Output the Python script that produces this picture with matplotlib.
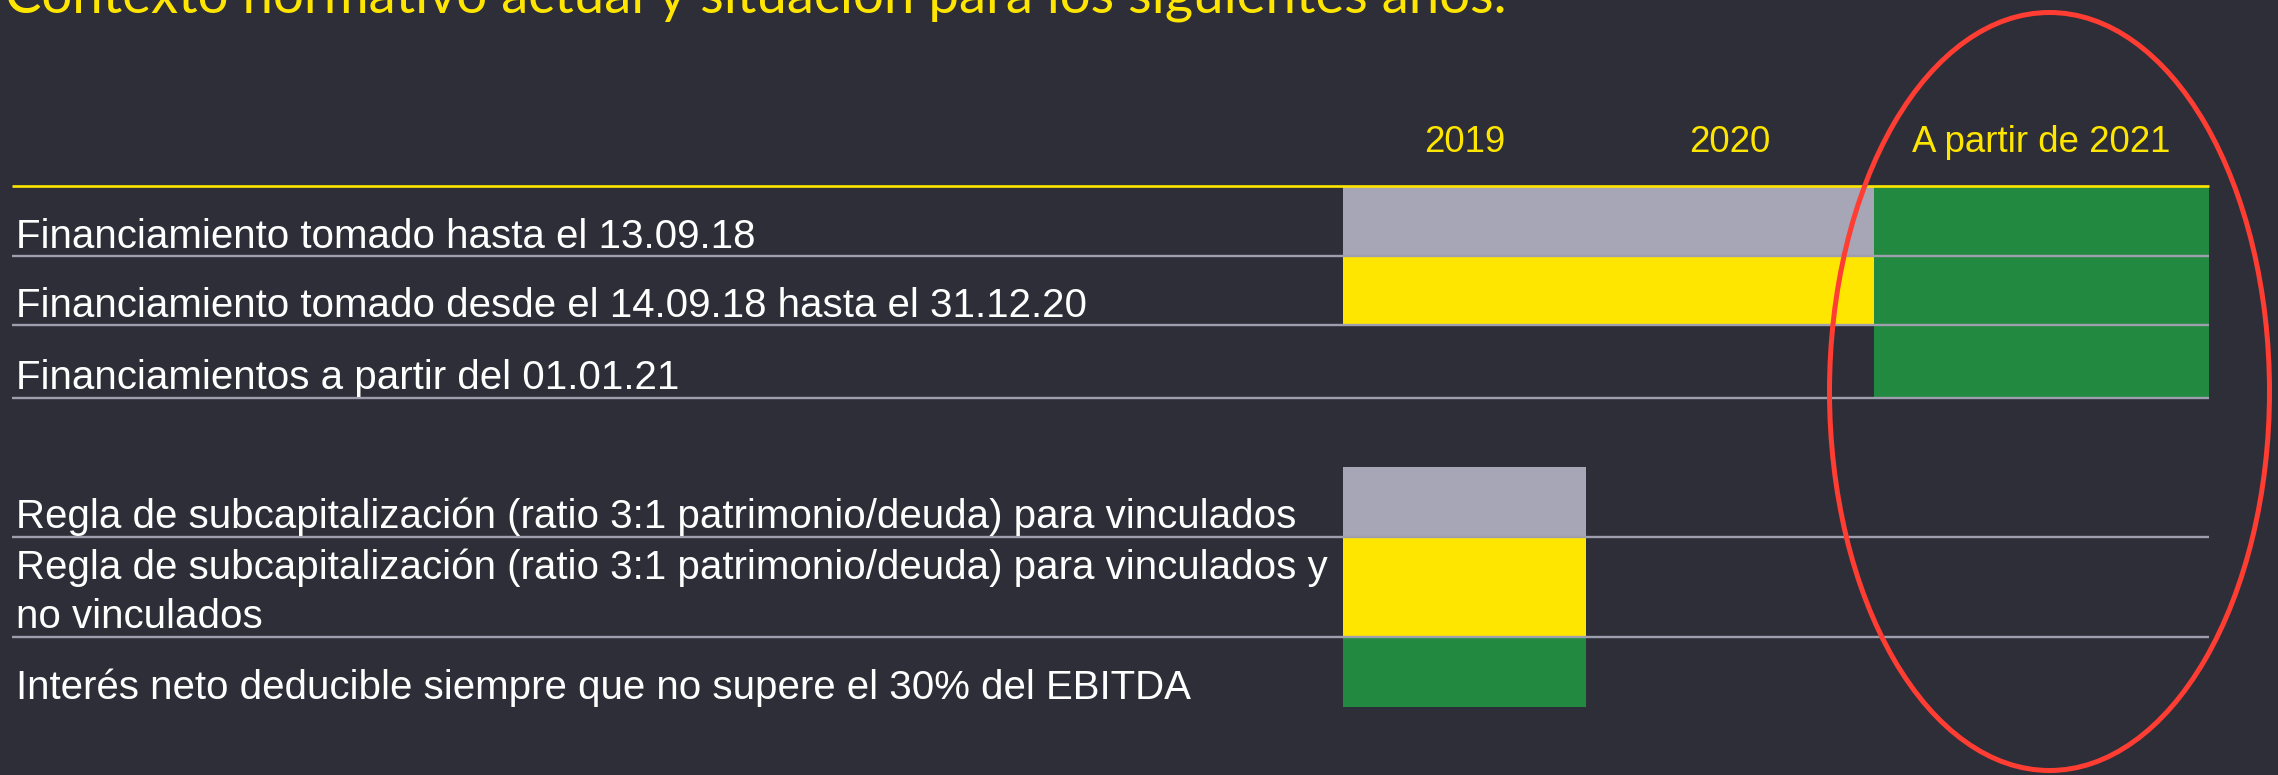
import matplotlib
matplotlib.use("Agg")
import matplotlib.pyplot as plt
from matplotlib.patches import Ellipse

# ---------------- data ----------------
title = "Contexto normativo actual y situación para los siguientes años."
columns = ["2019", "2020", "A partir de 2021"]

top_rows = [
    "Financiamiento tomado hasta el 13.09.18",
    "Financiamiento tomado desde el 14.09.18 hasta el 31.12.20",
    "Financiamientos a partir del 01.01.21",
]
# status per column: 'g' gray, 'y' yellow, 'v' green, None empty
top_status = [
    ["g", "g", "v"],
    ["y", "y", "v"],
    [None, None, "v"],
]

bottom_rows = [
    "Regla de subcapitalización (ratio 3:1 patrimonio/deuda) para vinculados",
    "Regla de subcapitalización (ratio 3:1 patrimonio/deuda) para vinculados y\nno vinculados",
    "Interés neto deducible siempre que no supere el 30% del EBITDA",
]
bottom_status = [
    ["g", None, None],
    ["y", None, None],
    ["v", None, None],
]

# ---------------- style / layout ----------------
BG = "#2E2E38"
YEL = "#FFE600"
GRAY = "#A6A6B6"
GREEN = "#228A40"
LINE = "#9E9EAE"
RED = "#FF3D33"
colors = {"g": GRAY, "y": YEL, "v": GREEN}

W, H = 2278, 775
col_edges = [1343, 1586, 1874, 2209]
x_left = 12
top_edges = [187, 256, 325.3, 397.5]
bottom_edges = [467, 536.7, 636.7, 707]

fig = plt.figure(figsize=(W / 100, H / 100), dpi=100)
fig.patch.set_facecolor(BG)
ax = fig.add_axes([0, 0, 1, 1])
ax.set_xlim(0, W)
ax.set_ylim(H, 0)
ax.axis("off")
ax.set_facecolor(BG)

LABEL_FS = 29
HEAD_FS = 26.4
FAM = ["Liberation Sans", "DejaVu Sans"]

# title fitted to its width
t = ax.text(5, 13, title, fontsize=34, family=["Lato", "DejaVu Sans"],
            color=YEL, va="baseline", ha="left")
fig.canvas.draw()
bb = t.get_window_extent()
t.set_fontsize(34 * (1508 - 5) / bb.width)

# header
for j, name in enumerate(columns):
    cx = (col_edges[j] + col_edges[j + 1]) / 2
    ax.text(cx, 152, name, fontsize=HEAD_FS, family=FAM, color=YEL,
            ha="center", va="baseline")

ax.hlines(186, x_left, col_edges[-1], color=YEL, lw=1.9, zorder=3)


def draw_section(labels, status, edges, bottom_line_last):
    for i, (lab, st) in enumerate(zip(labels, status)):
        y0, y1 = edges[i], edges[i + 1]
        for j, s in enumerate(st):
            if s is None:
                continue
            ax.barh((y0 + y1) / 2, col_edges[j + 1] - col_edges[j],
                    left=col_edges[j], height=y1 - y0,
                    color=colors[s], linewidth=0, zorder=1)
        lines = lab.split("\n")
        base = y1 - 8.3
        for k, ln in enumerate(reversed(lines)):
            ax.text(16, base - 49 * k, ln, fontsize=LABEL_FS, family=FAM,
                    color="white", ha="left", va="baseline")
        if i < len(labels) - 1 or bottom_line_last:
            ax.hlines(y1, x_left, col_edges[-1], color=LINE, lw=1.7, zorder=2)


draw_section(top_rows, top_status, top_edges, True)
draw_section(bottom_rows, bottom_status, bottom_edges, False)

ax.add_patch(Ellipse((2049.5, 391.5), 440, 758, fill=False,
                     edgecolor=RED, lw=3.6, zorder=4))

fig.savefig("out.png", dpi=100, facecolor=BG)
